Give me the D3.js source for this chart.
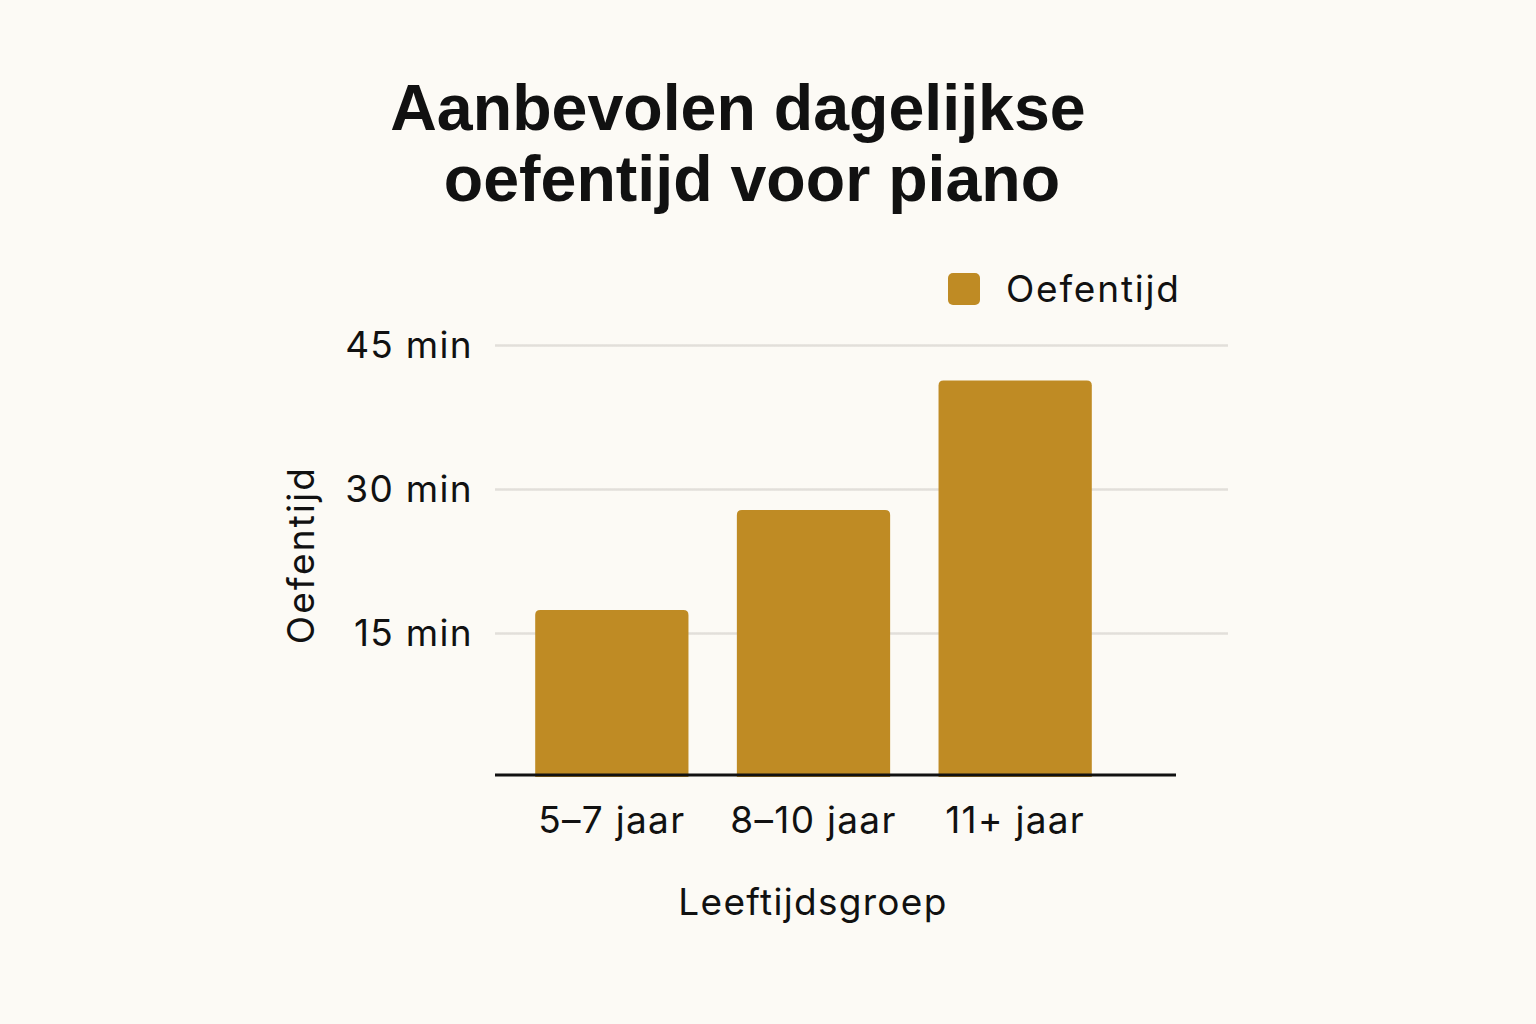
<!DOCTYPE html>
<html>
<head>
<meta charset="utf-8">
<script src="https://cdn.jsdelivr.net/npm/d3@7"></script>
<style>
  html, body { margin: 0; padding: 0; background: #fcfaf5; }
  svg { display: block; }
</style>
</head>
<body>
<svg class="canvas" width="1536" height="1024"></svg>
<script>
'use strict'

// Data
const groups = ['5–7 jaar', '8–10 jaar', '11+ jaar']
const minutes = [17.4, 27.8, 41.3]
const tickValues = [15, 30, 45]
const tickLabels = ['15 min', '30 min', '45 min']
const titleLines = ['Aanbevolen dagelijkse', 'oefentijd voor piano']
const seriesName = 'Oefentijd'

const width = 1536,
  height = 1024,
  barColor = '#bf8b24',
  labelFont = 'Inter, "Liberation Sans", sans-serif'

const svg = d3.select('.canvas')

svg.append('rect').attr('width', width).attr('height', height).attr('fill', '#fcfaf5')

const x = d3
  .scaleBand()
  .domain(groups)
  .range([511, 1116])
  .paddingInner(0.24)
  .paddingOuter(0.12)

const y = d3.scaleLinear().domain([0, 45]).range([777, 345])

// Gridline fade to the right
const defs = svg.append('defs')
const grad = defs
  .append('linearGradient')
  .attr('id', 'gridFade')
  .attr('gradientUnits', 'userSpaceOnUse')
  .attr('x1', 495)
  .attr('x2', 1228)
grad.append('stop').attr('offset', 0.75).attr('stop-color', '#e2dfda').attr('stop-opacity', 1)
grad.append('stop').attr('offset', 1).attr('stop-color', '#e2dfda').attr('stop-opacity', 0)

// Title
svg
  .append('text')
  .attr('text-anchor', 'middle')
  .attr('font-family', '"Liberation Sans", Arial, sans-serif')
  .attr('font-weight', 700)
  .attr('font-size', 64.5)
  .attr('fill', '#111')
  .selectAll('tspan')
  .data(titleLines)
  .enter()
  .append('tspan')
  .attr('x', (d, i) => (i === 0 ? 738 : 752))
  .attr('y', (d, i) => 130 + i * 71)
  .text(d => d)

// Gridlines
const grid = svg
  .append('g')
  .attr('transform', 'translate(495,0)')
  .call(
    d3
      .axisLeft(y)
      .tickValues(tickValues)
      .tickSize(-733)
      .tickFormat('')
  )
grid.select('.domain').remove()
grid.selectAll('line').attr('stroke', 'url(#gridFade)').attr('stroke-width', 2.5)

// Shared label style
const label = sel =>
  sel
    .attr('font-family', labelFont)
    .attr('font-size', 37)
    .attr('letter-spacing', 1.3)
    .attr('fill', '#111')

// Y tick labels
svg
  .append('g')
  .selectAll('text')
  .data(tickValues)
  .enter()
  .append('text')
  .attr('x', 473)
  .attr('y', d => y(d) + 13)
  .attr('text-anchor', 'end')
  .call(label)
  .text((d, i) => tickLabels[i])

// Y axis title
svg
  .append('text')
  .attr('transform', 'translate(314,555) rotate(-90)')
  .attr('text-anchor', 'middle')
  .call(label)
  .attr('letter-spacing', 2.2)
  .text(seriesName)

// Bars
const r = 5
svg
  .append('g')
  .selectAll('path')
  .data(minutes)
  .enter()
  .append('path')
  .attr('fill', barColor)
  .attr('d', (d, i) => {
    const x0 = x(groups[i]),
      w = x.bandwidth(),
      y0 = y(d),
      yb = y(0)
    return `M${x0},${yb}V${y0 + r}Q${x0},${y0} ${x0 + r},${y0}H${x0 + w - r}Q${x0 + w},${y0} ${x0 + w},${y0 + r}V${yb}Z`
  })

// X axis line
svg
  .append('line')
  .attr('x1', 495)
  .attr('x2', 1176)
  .attr('y1', 775)
  .attr('y2', 775)
  .attr('stroke', '#111')
  .attr('stroke-width', 3)

// X tick labels
svg
  .append('g')
  .selectAll('text')
  .data(groups)
  .enter()
  .append('text')
  .attr('x', d => x(d) + x.bandwidth() / 2)
  .attr('y', 833)
  .attr('text-anchor', 'middle')
  .call(label)
  .text(d => d)

// X axis title
svg
  .append('text')
  .attr('x', 813)
  .attr('y', 915)
  .attr('text-anchor', 'middle')
  .call(label)
  .text('Leeftijdsgroep')

// Legend
const legend = svg.append('g').attr('transform', 'translate(948,273)')
legend
  .append('rect')
  .attr('width', 32)
  .attr('height', 32)
  .attr('rx', 5)
  .attr('fill', barColor)
legend
  .append('text')
  .attr('x', 58)
  .attr('y', 29)
  .call(label)
  .attr('letter-spacing', 1.8)
  .text(seriesName)
</script>
</body>
</html>
